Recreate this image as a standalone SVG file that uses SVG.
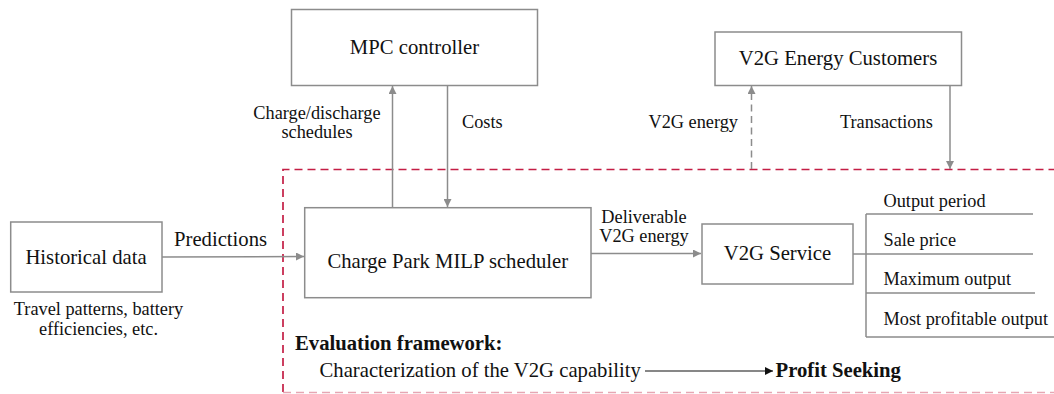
<svg xmlns="http://www.w3.org/2000/svg" width="1054" height="394" viewBox="0 0 1054 394">
<style>
.box{fill:#fff;stroke:#8c8c8c;stroke-width:1.5}
.ln{fill:none;stroke:#8c8c8c;stroke-width:1.5}
.t{font-family:"Liberation Serif","Times New Roman",serif;fill:#111}
.m{font-size:20.7px}
.s{font-size:18.3px}
.b{font-weight:bold}
.c{text-anchor:middle}
.e{text-anchor:end}
</style>
<defs>
<marker id="ah" viewBox="0 0 10 10" refX="10" refY="5" markerWidth="11" markerHeight="8" markerUnits="userSpaceOnUse" orient="auto">
<path d="M0,0 L10,5 L0,10 z" fill="#8c8c8c"/>
</marker>
<marker id="ahk" viewBox="0 0 10 10" refX="10" refY="5" markerWidth="12" markerHeight="8" markerUnits="userSpaceOnUse" orient="auto">
<path d="M0,0 L10,5 L0,10 z" fill="#111"/>
</marker>
</defs>
<rect width="1054" height="394" fill="#fff"/>
<g id="frame">
<path d="M283,392 L283,169.5 L1054,169.5" fill="none" stroke="#c41e45" stroke-width="1.7" stroke-dasharray="8,5"/>
<path d="M283,392.5 L1054,392.5" fill="none" stroke="#e6a6b3" stroke-width="1.5" stroke-dasharray="8,5"/>
</g>
<g id="connectors">
<line class="ln" x1="392.5" y1="208" x2="392.5" y2="86" marker-end="url(#ah)"/>
<line class="ln" x1="447.5" y1="86" x2="447.5" y2="207" marker-end="url(#ah)"/>
<line class="ln" x1="751.5" y1="169" x2="751.5" y2="86" stroke-dasharray="7,4.5" marker-end="url(#ah)"/>
<line class="ln" x1="950" y1="86" x2="950" y2="169" marker-end="url(#ah)"/>
<line class="ln" x1="162" y1="257" x2="304" y2="256.5" marker-end="url(#ah)"/>
<line class="ln" x1="591" y1="253.5" x2="701" y2="253.5" marker-end="url(#ah)"/>
<line class="ln" x1="853" y1="254" x2="866" y2="254"/>
<path class="ln" d="M866,214 L866,337 M866,214 L1033,214 M866,254 L1033,254 M866,293 L1035,293 M866,337 L1054,337"/>
<line x1="645" y1="371" x2="773" y2="371" stroke="#111" stroke-width="1.2" marker-end="url(#ahk)"/>
</g>
<g id="mpc">
<rect class="box" x="291.5" y="9.5" width="246" height="76"/>
<text class="t m c" x="414.5" y="54">MPC controller</text>
</g>
<g id="customers">
<rect class="box" x="715" y="32" width="246.5" height="53.5"/>
<text class="t m c" x="838" y="65">V2G Energy Customers</text>
</g>
<g id="historical">
<rect class="box" x="10.7" y="222" width="151.3" height="70"/>
<text class="t m c" x="86" y="264">Historical data</text>
<text class="t s c" x="98.5" y="315">Travel patterns, battery</text>
<text class="t s c" x="98.5" y="335">efficiencies, etc.</text>
</g>
<g id="scheduler">
<rect class="box" x="304.7" y="207.7" width="286.3" height="90"/>
<text class="t m c" x="447.8" y="268">Charge Park MILP scheduler</text>
</g>
<g id="service">
<rect class="box" x="702" y="224" width="151" height="60"/>
<text class="t m c" x="777.5" y="260">V2G Service</text>
</g>
<g id="labels">
<text class="t s c" x="317" y="119">Charge/discharge</text>
<text class="t s c" x="317" y="138">schedules</text>
<text class="t s" x="462" y="128">Costs</text>
<text class="t s e" x="738" y="128">V2G energy</text>
<text class="t s" x="840" y="128">Transactions</text>
<text class="t m" x="174" y="246">Predictions</text>
<text class="t s c" x="644" y="223">Deliverable</text>
<text class="t s c" x="644" y="242">V2G energy</text>
<text class="t s" x="883.5" y="207">Output period</text>
<text class="t s" x="883.5" y="245.5">Sale price</text>
<text class="t s" x="883.5" y="285">Maximum output</text>
<text class="t s" x="883.5" y="324.5">Most profitable output</text>
<text class="t m b" x="295" y="350">Evaluation framework:</text>
<text class="t m" x="319.5" y="377">Characterization of the V2G capability</text>
<text class="t m b" x="775.5" y="377">Profit Seeking</text>
</g>
</svg>
